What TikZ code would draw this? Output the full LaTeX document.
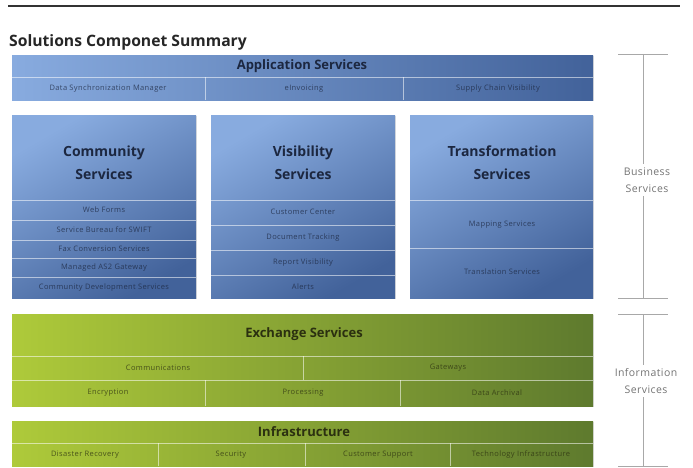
\documentclass[tikz,border=0pt]{standalone}
\usepackage{fontspec}
\setmainfont{Open Sans}
\usetikzlibrary{positioning,shadows}
\definecolor{bluelite}{HTML}{88ABDF}
\definecolor{bluedark}{HTML}{42629A}
\definecolor{greenlite}{HTML}{AECA3A}
\definecolor{greendark}{HTML}{5E7A2E}
\definecolor{navytext}{HTML}{1C2740}
\definecolor{olivetext}{HTML}{2B3010}
\definecolor{bracketgray}{HTML}{A8A8A8}

\begin{document}
\begin{tikzpicture}[x=1pt,y=-1pt,
    panel/.style={rectangle,inner sep=0pt,anchor=north west,
      drop shadow={opacity=0.25,shadow xshift=1pt,shadow yshift=-1pt}},
    bluebar/.style={panel,left color=bluelite,right color=bluedark},
    bluebox/.style={panel,left color=bluelite,right color=bluedark,shading angle=30},
    greenbar/.style={panel,left color=greenlite,right color=greendark},
    divider/.style={draw=white,draw opacity=0.55,line width=0.9pt},
    head/.style={font=\fontsize{13}{14}\selectfont\bfseries,text=navytext},
    boxhead/.style={font=\fontsize{14}{23}\selectfont\bfseries,text=navytext,align=center},
    greenhead/.style={font=\fontsize{13}{14}\selectfont\bfseries,text=olivetext},
    item/.style={font=\fontsize{7.5}{8}\selectfont\addfontfeature{LetterSpace=5},text=navytext,text opacity=0.75},
    greenitem/.style={font=\fontsize{7.5}{8}\selectfont\addfontfeature{LetterSpace=5},text=olivetext,text opacity=0.75},
    side/.style={font=\fontsize{10.5}{17}\selectfont\addfontfeature{LetterSpace=4},text=black!55,align=center},
    bracket/.style={draw=bracketgray,line width=0.9pt}]
  \useasboundingbox (0,0) rectangle (693,468);

  % Heading and rule
  \draw[black!80,line width=1.2pt] (8,6) -- (680,6);
  \node[anchor=base west,inner sep=0pt,font=\fontsize{15.7}{17}\selectfont\bfseries,text=black!85]
    (title) at (9,47) {Solutions Componet Summary};

  % Application Services
  \node[bluebar,minimum width=581pt,minimum height=45pt] (app) at (12,55) {};
  \node[head] (app-h) at (302,66) {Application Services};
  \draw[divider] (12,77) -- (593,77);
  \foreach \x in {205,403}
    \draw[divider] (\x,77) -- (\x,100);
  \foreach \name/\x/\txt in {1/108/Data Synchronization Manager,2/304/eInvoicing,3/498/Supply Chain Visibility}
    \node[item] (app-\name) at (\x,88.5) {\txt};

  % Community Services
  \node[bluebox,minimum width=184pt,minimum height=183pt] (comm) at (12,115) {};
  \node[boxhead] (comm-h) at (104,163) {Community\\Services};
  \foreach \y in {200,220,240,258,277}
    \draw[divider] (12,\y) -- (196,\y);
  \foreach \name/\y/\txt in {1/210/Web Forms,2/230/Service Bureau for SWIFT,3/249/Fax Conversion Services,4/268/Managed AS2 Gateway,5/287.5/Community Development Services}
    \node[item] (comm-\name) at (104,\y) {\txt};

  % Visibility Services
  \node[bluebox,minimum width=184pt,minimum height=183pt] (vis) at (211,115) {};
  \node[boxhead] (vis-h) at (303,163) {Visibility\\Services};
  \foreach \y in {200,225,250,275}
    \draw[divider] (211,\y) -- (395,\y);
  \foreach \name/\y/\txt in {1/212/Customer Center,2/237.5/Document Tracking,3/262.5/Report Visibility,4/287/Alerts}
    \node[item] (vis-\name) at (303,\y) {\txt};

  % Transformation Services
  \node[bluebox,minimum width=183pt,minimum height=183pt] (trans) at (410,115) {};
  \node[boxhead] (trans-h) at (502,163) {Transformation\\Services};
  \foreach \y in {200,248}
    \draw[divider] (410,\y) -- (593,\y);
  \foreach \name/\y/\txt in {1/225/Mapping Services,2/272/Translation Services}
    \node[item] (trans-\name) at (502,\y) {\txt};

  % Exchange Services
  \node[greenbar,minimum width=581pt,minimum height=92pt] (exch) at (12,314) {};
  \node[greenhead] (exch-h) at (304,334) {Exchange Services};
  \foreach \y in {356,380}
    \draw[divider] (12,\y) -- (593,\y);
  \draw[divider] (303,356) -- (303,380);
  \foreach \x in {205,400}
    \draw[divider] (\x,380) -- (\x,406);
  \foreach \name/\x/\y/\txt in {1/158/368/Communications,2/448/368/Gateways,3/108/393/Encryption,4/303/393/Processing,5/497/393/Data Archival}
    \node[greenitem] (exch-\name) at (\x,\y) {\txt};

  % Infrastructure
  \node[greenbar,minimum width=581pt,minimum height=45pt] (infra) at (12,421) {};
  \node[greenhead] (infra-h) at (304,432) {Infrastructure};
  \draw[divider] (12,443) -- (593,443);
  \foreach \x in {158,305,450}
    \draw[divider] (\x,443) -- (\x,466);
  \foreach \name/\x/\txt in {1/85/Disaster Recovery,2/231/Security,3/378/Customer Support,4/521/Technology Infrastructure}
    \node[greenitem] (infra-\name) at (\x,455) {\txt};

  % Side brackets
  \node[side] (business) at (647,180) {Business\\Services};
  \node[side] (information) at (646,381) {Information\\Services};
  \coordinate (bs-top) at (643,54);
  \coordinate (bs-bot) at (643,298);
  \coordinate (is-top) at (643,314);
  \coordinate (is-bot) at (643,466);
  \foreach \c in {bs-top,bs-bot,is-top,is-bot}
    \draw[bracket] ([xshift=-25pt]\c) -- ([xshift=25pt]\c);
  \draw[bracket] (bs-top) -- (bs-top |- business.north);
  \draw[bracket] (bs-bot |- business.south) -- (bs-bot);
  \draw[bracket] (is-top) -- (is-top |- information.north);
  \draw[bracket] (is-bot |- information.south) -- (is-bot);
\end{tikzpicture}
\end{document}
